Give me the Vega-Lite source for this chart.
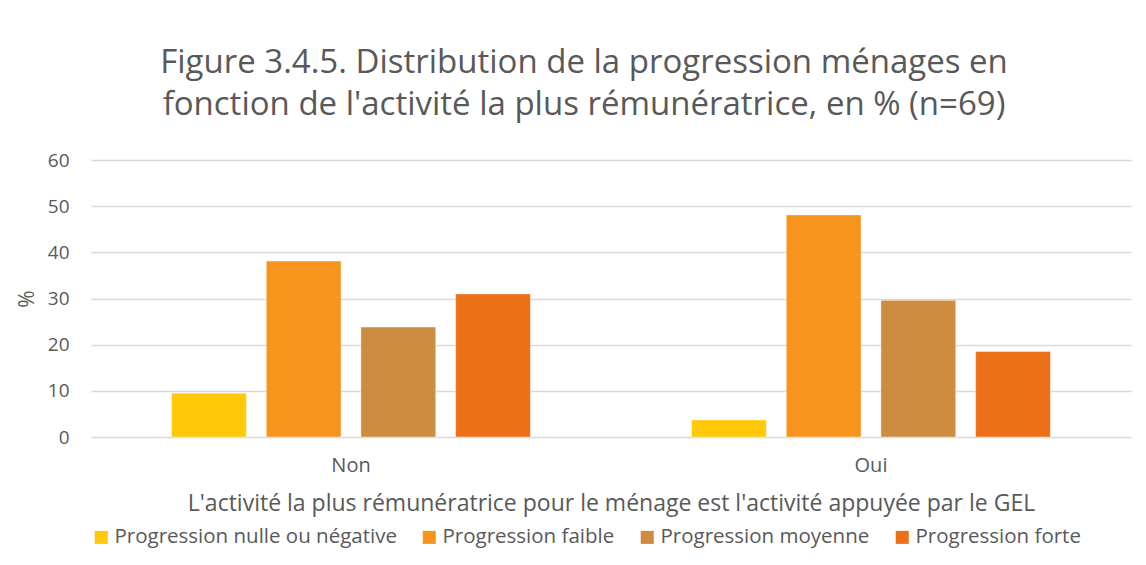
{
  "$schema": "https://vega.github.io/schema/vega-lite/v6.json",
  "autosize": {"type": "none"},
  "width": 1040,
  "height": 277,
  "padding": {"left": 91, "top": 160, "right": 15, "bottom": 128},
  "background": "white",
  "title": {
    "text": ["Figure 3.4.5. Distribution de la progression ménages en", "fonction de l'activité la plus rémunératrice, en % (n=69)"],
    "fontSize": 33,
    "font": "Open Sans",
    "fontWeight": "normal",
    "color": "#595959",
    "lineHeight": 42,
    "anchor": "middle",
    "dx": -27,
    "offset": 29
  },
  "data": {
    "values": [
      {"activite": "Non", "progression": "Progression nulle ou négative", "pct": 9.5},
      {"activite": "Non", "progression": "Progression faible", "pct": 38.1},
      {"activite": "Non", "progression": "Progression moyenne", "pct": 23.8},
      {"activite": "Non", "progression": "Progression forte", "pct": 31.0},
      {"activite": "Oui", "progression": "Progression nulle ou négative", "pct": 3.7},
      {"activite": "Oui", "progression": "Progression faible", "pct": 48.1},
      {"activite": "Oui", "progression": "Progression moyenne", "pct": 29.6},
      {"activite": "Oui", "progression": "Progression forte", "pct": 18.5}
    ]
  },
  "mark": {"type": "bar", "stroke": "#ffffff", "strokeOpacity": 0.4, "strokeWidth": 1},
  "encoding": {
    "x": {
      "field": "activite",
      "type": "nominal",
      "scale": {"paddingInner": 0.31, "paddingOuter": 0.155},
      "axis": {
        "title": "L'activité la plus rémunératrice pour le ménage est l'activité appuyée par le GEL",
        "labelAngle": 0,
        "labelFontSize": 20,
        "labelPadding": 18,
        "ticks": false,
        "domain": false,
        "titleFontSize": 23,
        "titleFontWeight": "normal",
        "titlePadding": 17
      }
    },
    "xOffset": {
      "field": "progression",
      "type": "nominal",
      "sort": ["Progression nulle ou négative", "Progression faible", "Progression moyenne", "Progression forte"],
      "scale": {"paddingInner": 0.21, "paddingOuter": 0}
    },
    "y": {
      "field": "pct",
      "type": "quantitative",
      "scale": {"domain": [0, 60]},
      "axis": {
        "title": "%",
        "values": [0, 10, 20, 30, 40, 50, 60],
        "ticks": false,
        "domain": false,
        "labelFontSize": 19,
        "labelPadding": 22,
        "titleFontSize": 21,
        "titleFontWeight": "normal",
        "titlePadding": 10,
        "gridColor": "#D9D9D9",
        "gridWidth": 1.5
      }
    },
    "color": {
      "field": "progression",
      "type": "nominal",
      "sort": ["Progression nulle ou négative", "Progression faible", "Progression moyenne", "Progression forte"],
      "scale": {
        "domain": ["Progression nulle ou négative", "Progression faible", "Progression moyenne", "Progression forte"],
        "range": ["#FFC90A", "#F7941E", "#CE8C40", "#EB7018"]
      },
      "legend": {
        "title": null,
        "orient": "bottom",
        "direction": "horizontal",
        "symbolType": "square",
        "symbolSize": 170,
        "symbolStrokeWidth": 0,
        "labelFontSize": 20.5,
        "labelLimit": 500,
        "labelOffset": 3,
        "columnPadding": 22,
        "offset": 12,
        "padding": 0
      }
    }
  },
  "config": {
    "font": "Open Sans",
    "view": {"stroke": null},
    "axis": {"labelColor": "#595959", "titleColor": "#595959", "labelFont": "Open Sans", "titleFont": "Open Sans"},
    "legend": {"labelColor": "#595959", "labelFont": "Open Sans"}
  }
}
